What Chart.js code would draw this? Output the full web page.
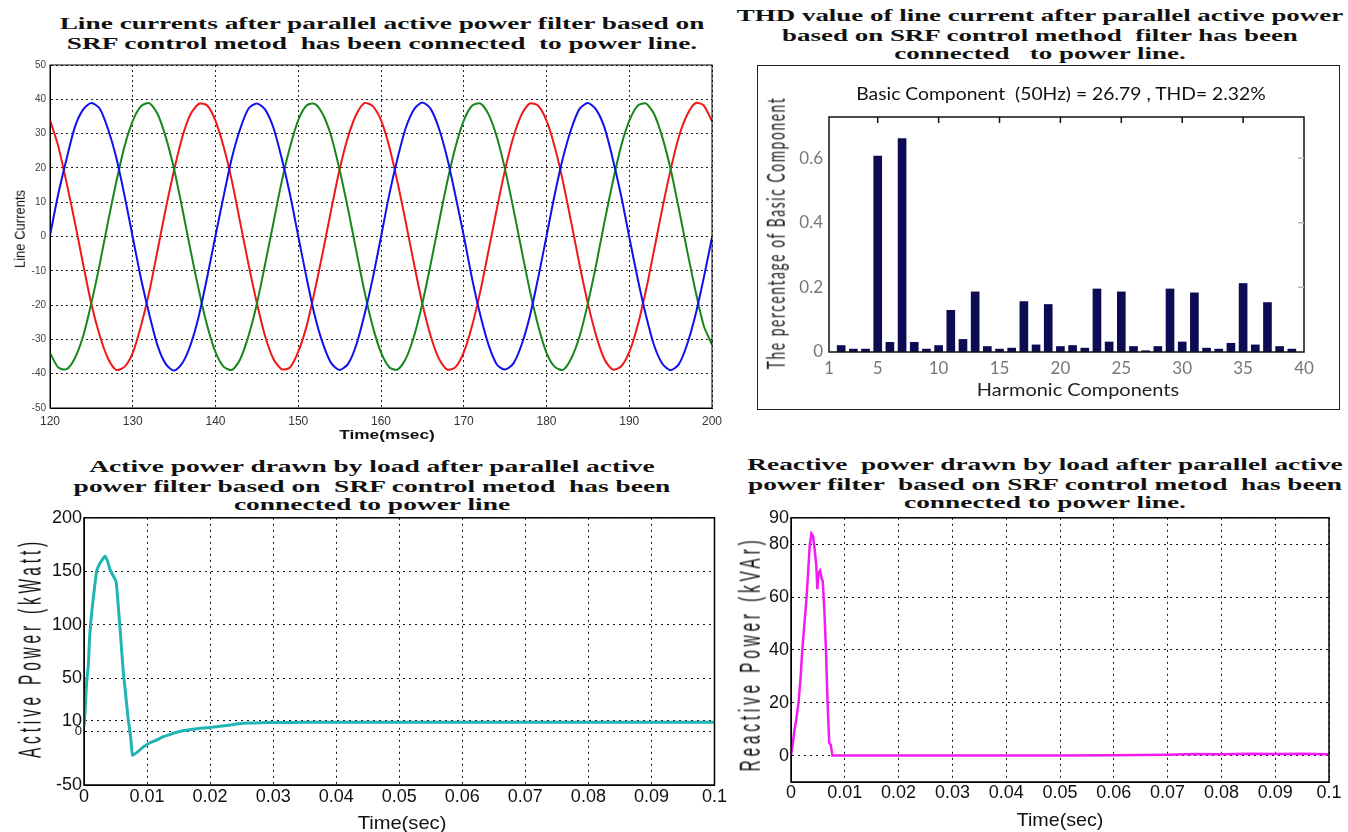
<!DOCTYPE html>
<html lang="en">
<head>
<meta charset="utf-8">
<title>SRF parallel active power filter results</title>
<script src="https://cdn.jsdelivr.net/npm/chart.js@4.4.1/dist/chart.umd.min.js"></script>
<style>
  html, body { margin: 0; background: #fff; }
  #page { position: relative; width: 1348px; height: 832px; overflow: hidden; }
  .box { position: absolute; }
  .txt { position: absolute; display: inline-block; white-space: pre; text-align: center; color: #111; transform-origin: 50% 50%; }
  .ttl { font: bold 16px/18.5px 'Liberation Serif', 'Times New Roman', serif; }
  #thdFrame { position: absolute; left: 757px; top: 65px; width: 581px; height: 343px; border: 1px solid #222; }
</style>
</head>
<body>
<div id="page">
  <!-- panel titles -->
  <div class="txt ttl" data-x="382" data-y="32.5" data-w="644" data-sy="1.05" style="line-height:19px">Line currents after parallel active power filter based on
SRF control metod  has been connected  to power line.</div>
  <div class="txt ttl" data-x="1040" data-y="35" data-w="606" data-sy="1.05">THD value of line current after parallel active power
based on SRF control method  filter has been
connected   to power line.</div>
  <div class="txt ttl" data-x="372" data-y="485.5" data-w="597" data-sy="1.05">Active power drawn by load after parallel active
power filter based on  SRF control metod  has been
connected to power line</div>
  <div class="txt ttl" data-x="1045" data-y="483.5" data-w="596" data-sy="1.05">Reactive  power drawn by load after parallel active
power filter  based on SRF control metod  has been
connected to power line.</div>

  <div id="thdFrame"></div>

  <div class="box" style="left:0;top:55px;width:730px;height:390px"><canvas id="currents"></canvas></div>
  <div class="box" style="left:757px;top:65px;width:583px;height:345px"><canvas id="thd"></canvas></div>
  <div class="box" style="left:0;top:505px;width:730px;height:327px"><canvas id="active"></canvas></div>
  <div class="box" style="left:735px;top:505px;width:613px;height:327px"><canvas id="reactive"></canvas></div>

  <!-- axis titles -->
  <div class="txt" data-x="20" data-y="229" data-w="78" data-rot="1" data-sy="1.1" style="font:13px 'Liberation Sans', sans-serif">Line Currents</div>
  <div class="txt" data-x="387" data-y="435" data-w="95" style="font:bold 12px 'Liberation Sans', sans-serif">Time(msec)</div>

  <div class="txt" data-x="1061" data-y="93" data-w="410" style="font:17px Lato, sans-serif">Basic Component  (50Hz) = 26.79 , THD= 2.32%</div>
  <div class="txt" data-x="1078" data-y="389" data-w="202" style="font:17px Lato, sans-serif;color:#222">Harmonic Components</div>
  <div class="txt" data-x="775" data-y="233" data-w="273" data-rot="1" data-sy="1.45" style="font:17px Lato, sans-serif;letter-spacing:2px;color:#222">The percentage of Basic Component</div>

  <div class="txt" data-x="402" data-y="823" data-w="89" style="font:19px 'Liberation Sans', sans-serif">Time(sec)</div>
  <div class="txt" data-x="30" data-y="648" data-w="220" data-rot="1" data-sy="1.6" style="font:20px 'Liberation Sans', sans-serif;letter-spacing:5px">Active Power (kWatt)</div>

  <div class="txt" data-x="1060" data-y="820" data-w="87" style="font:19px 'Liberation Sans', sans-serif">Time(sec)</div>
  <div class="txt" data-x="750" data-y="654" data-w="235" data-rot="1" data-sy="1.5" style="font:20px 'Liberation Sans', sans-serif;letter-spacing:5px">Reactive Power (kVAr)</div>
</div>

<script>
// ---- line currents (msec) ----
const timeMs = [120,121,122,123,124,125,126,127,128,129,130,131,132,133,134,135,136,137,138,139,
  140,141,142,143,144,145,146,147,148,149,150,151,152,153,154,155,156,157,158,159,
  160,161,162,163,164,165,166,167,168,169,170,171,172,173,174,175,176,177,178,179,
  180,181,182,183,184,185,186,187,188,189,190,191,192,193,194,195,196,197,198,199,200];
const currentA = [0.3,12.4,22.6,31.9,37.0,38.9,37.3,31.4,23.1,12.0,-0.2,-12.3,-22.7,-31.8,-37.2,-39.1,-36.9,-31.5,-23.0,-11.8,
  0.2,12.0,23.1,31.5,37.3,38.8,37.0,31.7,22.8,12.3,0.1,-12.0,-23.1,-31.4,-37.0,-38.9,-37.2,-31.7,-22.8,-12.2,
  -0.1,12.2,22.8,31.7,37.1,39.1,37.2,31.5,22.9,11.9,0.2,-12.2,-22.9,-31.6,-37.3,-38.8,-37.0,-31.5,-23.1,-12.0,
  0.1,12.3,23.0,31.4,37.2,38.9,37.0,31.8,22.7,12.1,-0.1,-12.1,-22.8,-31.7,-37.1,-39.0,-37.2,-31.4,-22.9,-12.1,-0.3];
const currentB = [34.0,26.3,15.7,4.2,-8.0,-19.7,-28.8,-35.5,-38.9,-38.0,-33.9,-26.0,-16.1,-4.0,8.2,19.4,29.1,35.7,38.7,38.2,
  33.7,26.0,16.0,3.9,-8.2,-19.4,-29.1,-35.7,-38.7,-38.2,-33.6,-26.2,-15.8,-4.2,8.0,19.6,28.9,35.5,38.9,38.0,
  33.9,26.2,15.8,4.1,-8.1,-19.6,-29.0,-35.6,-38.8,-38.1,-33.8,-26.1,-16.0,-4.1,8.1,19.5,29.0,35.6,38.8,38.1,
  33.8,26.1,15.9,4.0,-8.3,-19.5,-28.9,-35.8,-38.8,-37.9,-33.7,-26.1,-15.9,-4.0,8.2,19.5,29.1,35.5,38.9,38.2,33.6];
const currentC = [-33.9,-38.2,-38.7,-35.5,-29.1,-19.4,-8.2,4.2,15.8,26.2,33.7,38.0,38.9,35.7,28.9,19.6,8.0,-4.2,-15.8,-26.0,
  -33.7,-38.0,-38.9,-35.7,-28.9,-19.6,-8.0,4.0,16.0,26.0,33.9,38.2,38.7,35.5,29.1,19.4,8.2,-4.0,-16.0,-26.2,
  -33.8,-38.1,-38.8,-35.6,-29.0,-19.5,-8.1,4.1,15.9,26.1,33.8,38.1,38.8,35.6,29.0,19.5,8.1,-4.1,-15.9,-26.1,
  -33.9,-38.0,-38.9,-35.5,-29.1,-19.5,-8.2,4.2,15.8,26.2,33.7,38.1,38.8,35.7,28.9,19.6,8.0,-4.2,-15.8,-26.0,-31.5];
const msTicks = [120,130,140,150,160,170,180,190,200];
const currentTicks = [-50,-40,-30,-20,-10,0,10,20,30,40,50];

// ---- harmonic spectrum ----
const harmonicOrder = [2,3,4,5,6,7,8,9,10,11,12,13,14,15,16,17,18,19,20,21,22,23,24,25,26,27,28,29,30,31,32,33,34,35,36,37,38,39];
const harmonicLevel = [0.020,0.009,0.009,0.606,0.030,0.660,0.030,0.009,0.020,0.129,0.039,0.186,0.017,0.009,0.012,0.156,0.022,0.147,0.017,0.020,
  0.012,0.195,0.031,0.186,0.017,0.004,0.017,0.195,0.031,0.183,0.012,0.009,0.027,0.212,0.022,0.153,0.017,0.009];
const harmonicTicks = [1,5,10,15,20,25,30,35,40];
const levelTicks = [0,0.2,0.4,0.6];

// ---- active power (sec, kW) ----
const activeTime = [0,0.0002,0.0004,0.0007,0.0009,0.0012,0.0015,0.002,0.0024,0.0028,
  0.0033,0.0037,0.0041,0.0046,0.0051,0.0054,0.0058,0.0062,0.0066,0.007,
  0.0074,0.0077,0.0085,0.0095,0.0105,0.0115,0.0125,0.0135,0.0145,0.0155,
  0.0165,0.0175,0.0185,0.0195,0.0205,0.0215,0.023,0.0245,0.026,0.028,
  0.03,0.035,0.04,0.05,0.06,0.07,0.08,0.09,0.1];
const activePower = [5,22,45,63,89,110,126,150,156,160,
  164,160,152,146,140,120,90,58,35,12,
  -5,-22,-19,-14,-10.5,-8,-5,-3,-1,0.5,
  1.5,2.3,3,3.6,4.2,5,6,7.2,7.9,8.3,
  8.5,8.6,8.6,8.6,8.6,8.6,8.6,8.6,8.6];
const activeTicks = [-50,0,10,50,100,150,200];

// ---- reactive power (sec, kVAr) ----
const reactiveTime = [0,0.0003,0.0006,0.001,0.0014,0.0018,0.0021,0.0025,0.0029,0.0032,
  0.0035,0.0038,0.0041,0.0044,0.0047,0.0049,0.0051,0.0054,0.0057,0.0059,
  0.0062,0.0065,0.0068,0.0071,0.0074,0.0077,0.008,0.01,0.02,0.03,
  0.04,0.05,0.06,0.065,0.07,0.075,0.08,0.085,0.09,0.095,0.1];
const reactivePower = [0,4,9,14,20,30,40,50,60,70,
  80,84,83,78,72,63,69,70,67,66,
  55,40,20,5,4,0,0,0,0,0,
  0,0,0.1,0.2,0.3,0.6,0.5,0.7,0.6,0.7,0.5];
const reactiveTicks = [0,20,40,60,80,90];
const secTicks = [0,0.01,0.02,0.03,0.04,0.05,0.06,0.07,0.08,0.09,0.1];

// place the html text blocks (centre + fitted width)
document.querySelectorAll('.txt').forEach(el => {
  const d = el.dataset;
  const k = d.w ? +d.w / el.offsetWidth : 1;
  const sy = +(d.sy || 1);
  el.style.left = d.x + 'px';
  el.style.top = d.y + 'px';
  el.style.transform = 'translate(-50%, -50%)' + (d.rot ? ' rotate(-90deg)' : '') + ' scale(' + k + ',' + sy + ')';
});

// box round the plot area, with optional inward ticks
const frame = {
  id: 'frame',
  afterDraw(chart, args, opts) {
    const { ctx, chartArea: a } = chart;
    ctx.save();
    ctx.strokeStyle = opts.color || '#000';
    ctx.lineWidth = opts.width || 1;
    ctx.strokeRect(a.left, a.top, a.right - a.left, a.bottom - a.top);
    if (opts.inTicks) {
      const xs = chart.scales.x, ys = chart.scales.y;
      ctx.lineWidth = 1.5;
      ctx.beginPath();
      xs.ticks.forEach(t => {
        const px = xs.getPixelForValue(t.value);
        if (px > a.left + 2 && px < a.right - 2) { ctx.moveTo(px, a.top); ctx.lineTo(px, a.top + 6); }
      });
      ctx.stroke();
      ctx.strokeStyle = '#bbb';
      ctx.beginPath();
      ys.ticks.forEach(t => {
        const py = ys.getPixelForValue(t.value);
        if (py > a.top + 2 && py < a.bottom - 2) { ctx.moveTo(a.right, py); ctx.lineTo(a.right - 6, py); }
      });
      ctx.stroke();
    }
    ctx.restore();
  }
};

const setTicks = arr => axis => { axis.ticks = arr.map(v => ({ value: v })); };
const fmt = v => String(+(+v).toFixed(3));

// line currents
new Chart(document.getElementById('currents'), {
  type: 'line',
  data: {
    datasets: [
      { data: timeMs.map((t, i) => ({ x: t, y: currentA[i] })), borderColor: '#1010f0' },
      { data: timeMs.map((t, i) => ({ x: t, y: currentC[i] })), borderColor: '#17871c' },
      { data: timeMs.map((t, i) => ({ x: t, y: currentB[i] })), borderColor: '#f01818' }
    ]
  },
  options: {
    responsive: true, maintainAspectRatio: false, animation: false,
    layout: { padding: { top: 10, right: 18, left: 0, bottom: 0 } },
    elements: { point: { radius: 0 }, line: { borderWidth: 2, tension: 0.25 } },
    plugins: { legend: { display: false }, tooltip: { enabled: false }, frame: { width: 1 } },
    scales: {
      x: {
        type: 'linear', min: 120, max: 200,
        afterBuildTicks: setTicks(msTicks),
        afterFit: s => { s.height = 37; },
        grid: { color: '#222', drawTicks: false },
        border: { color: '#000', dash: [2, 3] },
        ticks: { color: '#333', padding: 6, font: { family: 'Liberation Sans', size: 12 }, callback: fmt }
      },
      y: {
        min: -50, max: 50,
        afterBuildTicks: setTicks(currentTicks),
        afterFit: s => { s.width = 50; },
        grid: { color: '#222', drawTicks: false },
        border: { color: '#000', dash: [2, 3] },
        ticks: { color: '#444', padding: 4, font: { family: 'Liberation Sans', size: 10 }, callback: fmt }
      }
    }
  },
  plugins: [frame]
});

// THD spectrum
new Chart(document.getElementById('thd'), {
  type: 'bar',
  data: {
    datasets: [{
      data: harmonicOrder.map((h, i) => ({ x: h, y: harmonicLevel[i] })),
      backgroundColor: '#0c0c55', barThickness: 8
    }]
  },
  options: {
    responsive: true, maintainAspectRatio: false, animation: false,
    layout: { padding: { top: 52, right: 36, left: 0, bottom: 0 } },
    plugins: { legend: { display: false }, tooltip: { enabled: false }, frame: { width: 1.5, color: '#111', inTicks: true } },
    scales: {
      x: {
        type: 'linear', min: 1, max: 40, offset: false,
        afterBuildTicks: setTicks(harmonicTicks),
        afterFit: s => { s.height = 58; },
        grid: { display: false, drawTicks: false }, border: { display: false },
        ticks: { color: '#777', padding: 6, font: { family: 'Lato', size: 17 }, callback: fmt }
      },
      y: {
        min: 0, max: 0.727,
        afterBuildTicks: setTicks(levelTicks),
        afterFit: s => { s.width = 72; },
        grid: { display: false, drawTicks: false }, border: { display: false },
        ticks: { color: '#777', padding: 6, font: { family: 'Lato', size: 17 }, callback: fmt }
      }
    }
  },
  plugins: [frame]
});

// active power
new Chart(document.getElementById('active'), {
  type: 'line',
  data: {
    datasets: [{
      data: activeTime.map((t, i) => ({ x: t, y: activePower[i] })),
      borderColor: '#22b4b4', borderWidth: 3
    }]
  },
  options: {
    responsive: true, maintainAspectRatio: false, animation: false,
    layout: { padding: { top: 10, right: 12, left: 0, bottom: 0 } },
    elements: { point: { radius: 0 }, line: { tension: 0.15 } },
    plugins: { legend: { display: false }, tooltip: { enabled: false }, frame: { width: 1.5 } },
    scales: {
      x: {
        type: 'linear', min: 0, max: 0.1,
        afterBuildTicks: setTicks(secTicks),
        afterFit: s => { s.height = 47; },
        grid: { color: '#111', drawTicks: false },
        border: { color: '#000', dash: [2, 4] },
        ticks: { color: '#111', padding: 3, font: { family: 'Liberation Sans', size: 18, lineHeight: 1 }, callback: fmt }
      },
      y: {
        min: -50, max: 200,
        afterBuildTicks: setTicks(activeTicks),
        afterFit: s => { s.width = 84; },
        grid: { color: '#111', drawTicks: false },
        border: { color: '#000', dash: [2, 4] },
        ticks: {
          color: '#111', padding: 2,
          font: c => ({ family: 'Liberation Sans', size: c.tick && c.tick.value === 0 ? 13 : 18 }),
          callback: fmt
        }
      }
    }
  },
  plugins: [frame]
});

// reactive power
new Chart(document.getElementById('reactive'), {
  type: 'line',
  data: {
    datasets: [{
      data: reactiveTime.map((t, i) => ({ x: t, y: reactivePower[i] })),
      borderColor: '#f21cf2', borderWidth: 2.5
    }]
  },
  options: {
    responsive: true, maintainAspectRatio: false, animation: false,
    layout: { padding: { top: 11, right: 19, left: 0, bottom: 0 } },
    elements: { point: { radius: 0 }, line: { tension: 0 } },
    plugins: { legend: { display: false }, tooltip: { enabled: false }, frame: { width: 1.5 } },
    scales: {
      x: {
        type: 'linear', min: 0, max: 0.1,
        afterBuildTicks: setTicks(secTicks),
        afterFit: s => { s.height = 50; },
        grid: { color: '#111', drawTicks: false },
        border: { color: '#000', dash: [2, 4] },
        ticks: { color: '#111', padding: 2, font: { family: 'Liberation Sans', size: 18, lineHeight: 1 }, callback: fmt }
      },
      y: {
        min: -10, max: 90,
        afterBuildTicks: setTicks(reactiveTicks),
        afterFit: s => { s.width = 56; },
        grid: { color: '#111', drawTicks: false },
        border: { color: '#000', dash: [2, 4] },
        ticks: { color: '#111', padding: 2, font: { family: 'Liberation Sans', size: 18 }, callback: fmt }
      }
    }
  },
  plugins: [frame]
});
</script>
</body>
</html>
